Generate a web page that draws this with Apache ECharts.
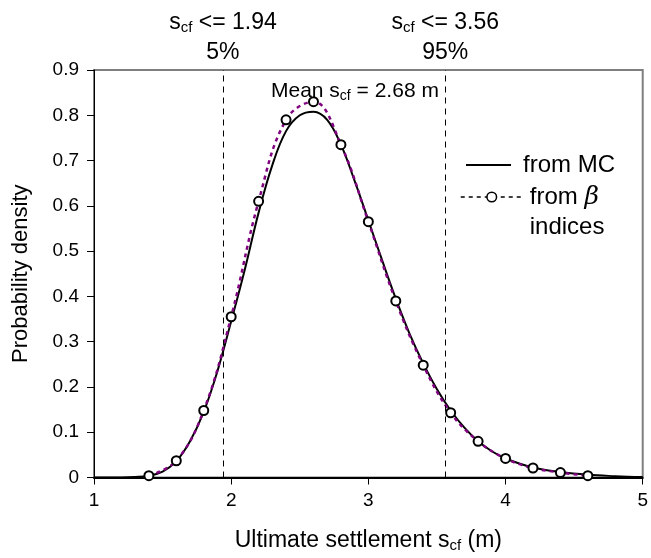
<!DOCTYPE html>
<html>
<head>
<meta charset="utf-8">
<script src="https://cdn.jsdelivr.net/npm/echarts@6/dist/echarts.min.js"></script>
<style>
  html, body { margin: 0; padding: 0; background: #fff; }
  #chart { width: 651px; height: 558px; }
</style>
</head>
<body>
<div id="chart"></div>
<script>
// Monte Carlo density curve
const mcX = [1.0, 1.1, 1.2, 1.3, 1.4, 1.5, 1.6, 1.7, 1.8, 1.9, 2.0, 2.1, 2.2, 2.3, 2.4, 2.5, 2.6, 2.7, 2.8, 2.9,
  3.0, 3.1, 3.2, 3.3, 3.4, 3.5, 3.6, 3.7, 3.8, 3.9, 4.0, 4.2, 4.4, 4.6, 4.8, 5.0];
const mcY = [0, 0, 0, 0.001, 0.004, 0.013, 0.036, 0.08, 0.145, 0.235, 0.345, 0.46, 0.585, 0.69, 0.765, 0.8, 0.808, 0.79, 0.735, 0.655,
  0.568, 0.48, 0.395, 0.318, 0.252, 0.195, 0.148, 0.11, 0.08, 0.058, 0.042, 0.022, 0.012, 0.006, 0.003, 0.001];

// density from beta indices (markers)
const betaX = [1.4, 1.6, 1.8, 2.0, 2.2, 2.4, 2.6, 2.8, 3.0, 3.2, 3.4, 3.6, 3.8, 4.0, 4.2, 4.4, 4.6];
const betaY = [0.004, 0.037, 0.148, 0.355, 0.61, 0.79, 0.83, 0.735, 0.565, 0.39, 0.248, 0.143, 0.08, 0.042, 0.021, 0.011, 0.004];

// percentile lines
const pctValues = [1.94, 3.56];
const pctLabels = ['5%', '95%'];
const meanValue = 2.68;

const yTicks = [0, 0.1, 0.2, 0.3, 0.4, 0.5, 0.6, 0.7, 0.8, 0.9];

const font = 'Liberation Sans, Arial, sans-serif';
function subRich(size, subSize) {
  return {
    a: { fontSize: size, fontFamily: font, color: '#000', fontWeight: 'normal', lineHeight: 30 },
    b: { fontSize: subSize, fontFamily: font, color: '#000', fontWeight: 'normal', lineHeight: 30, padding: [10, 0, 0, 0] }
  };
}

const chart = echarts.init(document.getElementById('chart'));

const option = {
  animation: false,
  grid: {
    left: 94, right: 8, top: 70, bottom: 80,
    show: true, borderColor: '#7f7f7f', borderWidth: 2
  },
  title: {
    text: '{a|Mean s}{b|cf}{a| = ' + meanValue.toFixed(2) + ' m}',
    left: 266, top: 71,
    textStyle: { fontWeight: 'normal', rich: subRich(21, 14) }
  },
  legend: [
    {
      data: [{ name: 'from MC', itemStyle: { opacity: 0 } }],
      left: 465, top: 150, padding: 0,
      itemWidth: 45, itemHeight: 12,
      textStyle: { fontSize: 24, fontFamily: font, color: '#000', lineHeight: 30, padding: [0, 0, 0, 7] }
    },
    {
      data: [{
        name: 'from β indices',
        lineStyle: { color: '#000', type: [4, 4], width: 1.5 },
        itemStyle: { color: '#fff', borderColor: '#000', borderWidth: 1.5 }
      }],
      left: 460, top: 152, padding: 0,
      itemWidth: 62, itemHeight: 12,
      formatter: function () { return 'from {g|β}\nindices'; },
      textStyle: {
        fontSize: 24, fontFamily: font, color: '#000', lineHeight: 30, padding: [30, 0, 0, 2],
        rich: { g: { fontSize: 25, fontFamily: 'DejaVu Serif, serif', fontStyle: 'italic', lineHeight: 30 } }
      }
    }
  ],
  xAxis: {
    type: 'value', min: 1, max: 5, interval: 1,
    name: '{a|Ultimate settlement s}{b|cf}{a| (m)}',
    nameLocation: 'middle', nameGap: 48,
    nameTextStyle: { rich: subRich(23, 15) },
    axisLine: { lineStyle: { color: '#000', width: 2 } },
    axisTick: { inside: false, length: 7, lineStyle: { color: '#000' } },
    axisLabel: { fontSize: 19, fontFamily: font, color: '#000', margin: 14 },
    splitLine: { show: false }
  },
  yAxis: {
    type: 'value', min: 0, max: 0.9, interval: 0.1,
    name: 'Probability density',
    nameLocation: 'middle', nameGap: 62,
    nameTextStyle: { fontSize: 22, fontFamily: font, color: '#000' },
    axisLine: { show: true, lineStyle: { color: '#000', width: 1 } },
    axisTick: { show: true, inside: false, length: 7, lineStyle: { color: '#000' } },
    axisLabel: {
      fontSize: 19, fontFamily: font, color: '#000', margin: 15,
      formatter: function (v) {
        const t = yTicks.find(function (k) { return Math.abs(k - v) < 1e-6; });
        return t === 0 ? '0' : t.toFixed(1);
      }
    },
    splitLine: { show: false }
  },
  series: [
    {
      name: 'from MC',
      type: 'line',
      smooth: 0.4,
      showSymbol: false,
      symbol: 'none',
      data: mcX.map(function (x, i) { return [x, mcY[i]]; }),
      lineStyle: { color: '#000', width: 2 },
      itemStyle: { color: '#000' },
      z: 3,
      markLine: {
        silent: true,
        symbol: 'none',
        lineStyle: { color: '#000', type: [6, 5], width: 1 },
        label: {
          position: 'end', distance: 2,
          formatter: function (p) {
            const i = pctValues.indexOf(p.value);
            return '{a|s}{b|cf}{a| <= ' + p.value.toFixed(2) + '}\n{a|' + pctLabels[i] + '}';
          },
          rich: subRich(23, 15)
        },
        data: pctValues.map(function (v) { return { xAxis: v }; })
      }
    },
    {
      name: 'from β indices',
      type: 'line',
      smooth: 0.4,
      data: betaX.map(function (x, i) { return [x, betaY[i]]; }),
      symbol: 'circle',
      symbolSize: 9,
      showSymbol: true,
      lineStyle: { color: '#800080', width: 2.5, type: [4, 4] },
      itemStyle: { color: '#fff', borderColor: '#000', borderWidth: 2 },
      z: 4
    }
  ]
};

chart.setOption(option);
</script>
</body>
</html>
